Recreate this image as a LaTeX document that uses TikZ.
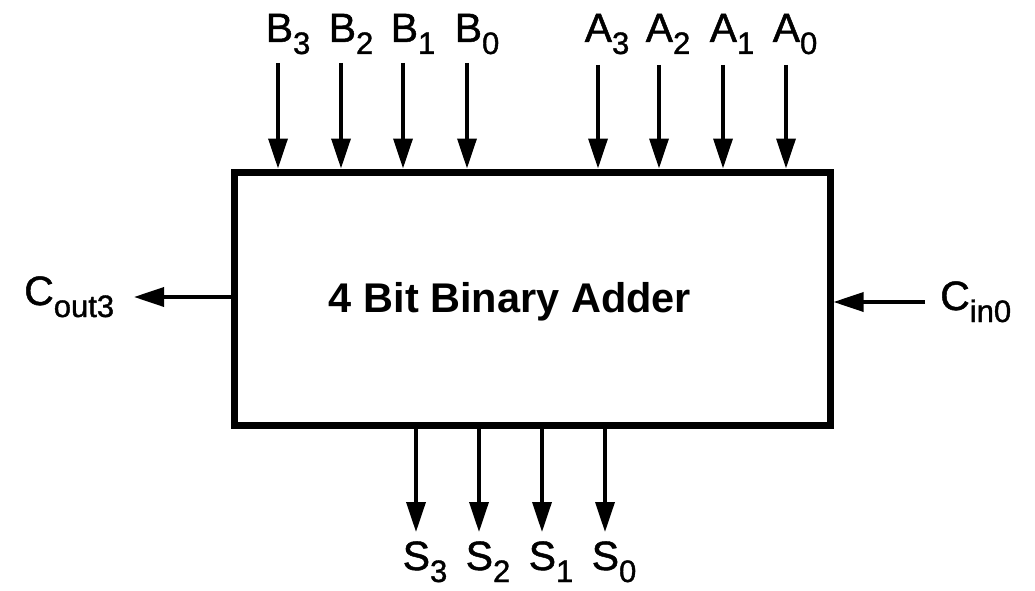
\documentclass[tikz,border=0pt]{standalone}
\usepackage{fontspec}
\setmainfont{Liberation Sans}
\newfontface\heavyfont{Liberation Sans}[FakeBold=1.2]
\usetikzlibrary{arrows.meta}
\newcommand\lsub[1]{\raisebox{-12pt}{\fontsize{31}{32}\selectfont #1}}
\begin{document}
\begin{tikzpicture}[x=1pt,y=-1pt,
  wire/.style={line width=3.5pt,-{Triangle[length=30pt,width=19pt]}},
  lbl/.style={font=\heavyfont\fontsize{41}{44}\selectfont, inner sep=0pt, anchor=base},
  blockbox/.style={draw, line width=7pt, minimum width=596pt, minimum height=253pt, inner sep=0pt}]
\useasboundingbox (0,0) rectangle (1035,591);
\node[blockbox] (adder) at (532,298.5) {};
\node[font=\bfseries\fontsize{41.5}{44}\selectfont, inner sep=0pt, anchor=base] (title) at (510,312) {4 Bit Binary Adder};
% top labels
\node[lbl] (b3) at (288,42) {B\lsub{3}};
\node[lbl] (b2) at (351,42) {B\lsub{2}};
\node[lbl] (b1) at (413,42) {B\lsub{1}};
\node[lbl] (b0) at (477,42) {B\lsub{0}};
\node[lbl] (a3) at (607,42) {A\lsub{3}};
\node[lbl] (a2) at (668,42) {A\lsub{2}};
\node[lbl] (a1) at (732,42) {A\lsub{1}};
\node[lbl] (a0) at (795,42) {A\lsub{0}};
\coordinate (pb3) at (278,63);
\coordinate (pb2) at (341,63);
\coordinate (pb1) at (403,63);
\coordinate (pb0) at (467,63);
\coordinate (pa3) at (598,65);
\coordinate (pa2) at (659,65);
\coordinate (pa1) at (723,65);
\coordinate (pa0) at (786,65);
\foreach \p in {pb3,pb2,pb1,pb0,pa3,pa2,pa1,pa0}
  \draw[wire] (\p) -- (\p |- adder.north);
% bottom
\coordinate (ps3) at (416,532);
\coordinate (ps2) at (479,532);
\coordinate (ps1) at (542,532);
\coordinate (ps0) at (605,532);
\foreach \p in {ps3,ps2,ps1,ps0}
  \draw[wire] (\p |- adder.south) -- (\p);
\node[lbl] (s3) at (425,570) {S\lsub{3}};
\node[lbl] (s2) at (488,570) {S\lsub{2}};
\node[lbl] (s1) at (551,570) {S\lsub{1}};
\node[lbl] (s0) at (614,570) {S\lsub{0}};
% carries
\coordinate (pco) at (134,297);
\draw[wire] (pco -| adder.west) -- (pco);
\node[lbl, anchor=base west] (cout) at (24,305) {C\lsub{out3}};
\coordinate (pci) at (925,302);
\draw[wire] (pci) -- (pci -| adder.east);
\node[lbl, anchor=base west] (cin) at (940,310) {C\lsub{in0}};
\end{tikzpicture}
\end{document}
